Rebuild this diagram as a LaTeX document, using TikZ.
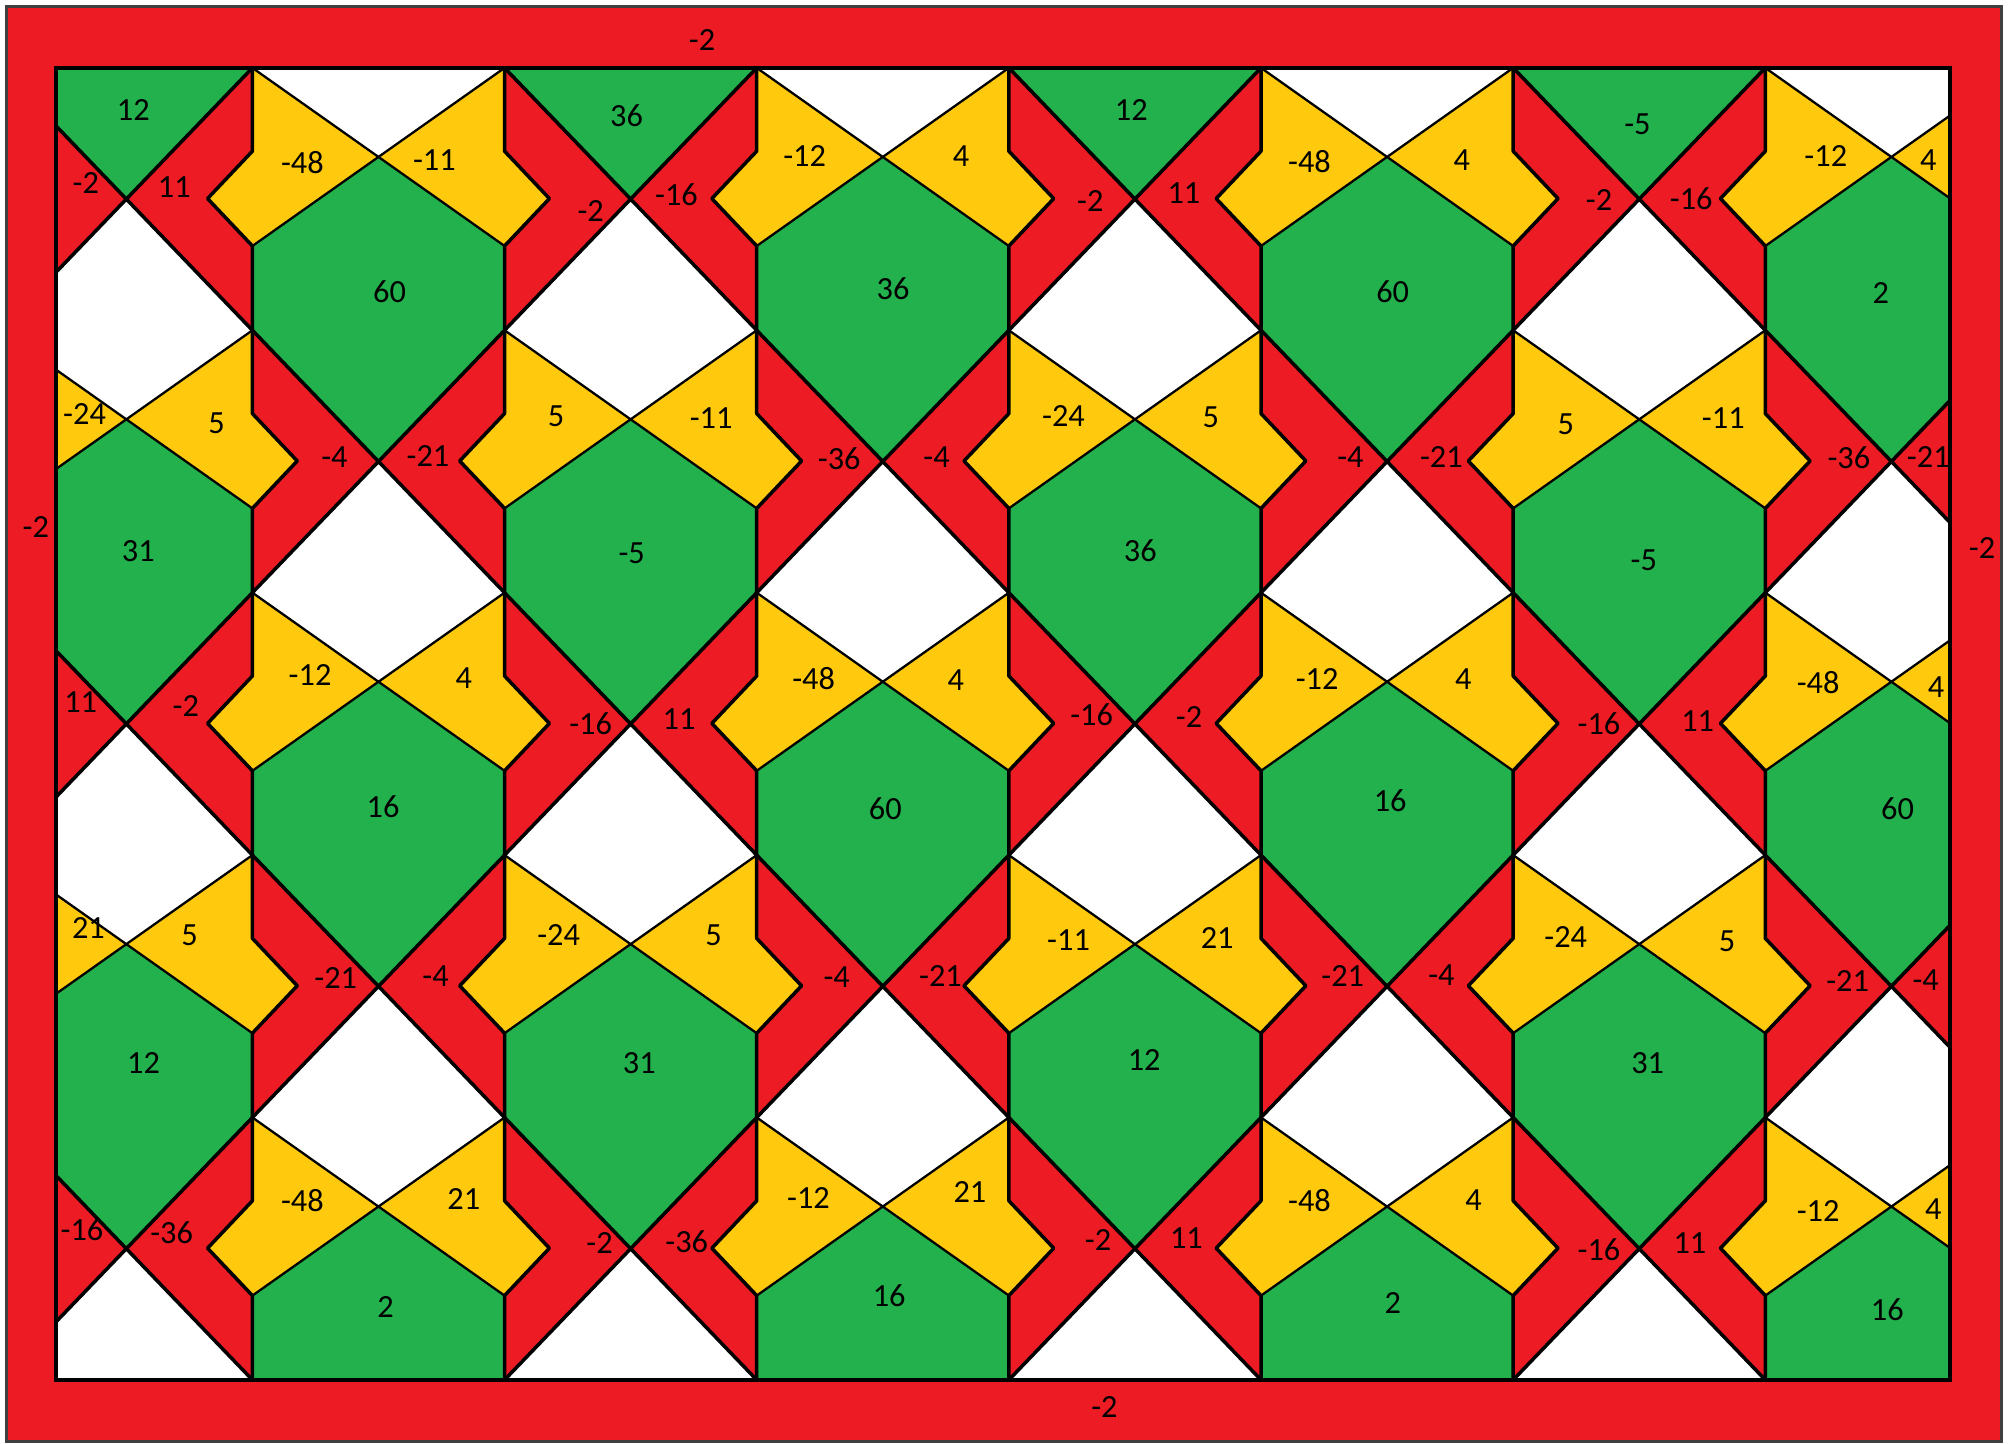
\documentclass[tikz,border=0pt]{standalone}
\usepackage{fontspec}
\setmainfont{Carlito}
\definecolor{tilered}{HTML}{ED1C24}
\definecolor{tilegreen}{HTML}{22B14C}
\definecolor{tileyellow}{HTML}{FFC90E}

% corners of cell (i,j): x from \xl to \xr, y from \yt to \yb
\newcommand{\setcell}[2]{%
  \pgfmathsetmacro\xl{0.2+196.8*#1}%
  \pgfmathsetmacro\xr{\xl+196.8}%
  \pgfmathsetmacro\xm{\xl+98.4}%
  \pgfmathsetmacro\yt{53+204.8*#2}%
  \pgfmathsetmacro\yb{\yt+204.8}%
  \pgfmathsetmacro\ym{\yt+102.4}%
  \pgfmathtruncatemacro\kind{mod(#1+#2,2)}}

\tikzset{
  lbl/.style={inner sep=0pt, font=\fontsize{9.2}{11}\selectfont},
  cross line/.style={line width=1pt, line join=round},
  bow line/.style={line width=0.65pt},
}

\begin{document}
\begin{tikzpicture}[x=0.012813cm, y=-0.012813cm]
  \useasboundingbox (0,0) rectangle (1568,1127);

  % Red frame and white field
  \draw[fill=tilered, draw=black!75, line width=0.9pt] (5,5) rectangle (1562,1125);
  \fill[white] (44,53) rectangle (1522,1077);

  \begin{scope}
    \clip (44,53) rectangle (1522,1077);
    % Green tops and red strips of the crossing cells, green hexagons below the bows
    \foreach \i in {0,...,7} {
      \foreach \j in {0,...,4} {
        \setcell{\i}{\j}
        \ifnum\kind=0
          \fill[tilegreen] (\xl,\yt) -- (\xr,\yt) -- (\xm,\ym) -- cycle;
          \fill[tilered] (\xl,\yt) -- (\xm,\ym) -- (\xl,\yb) -- cycle;
          \fill[tilered] (\xr,\yt) -- (\xm,\ym) -- (\xr,\yb) -- cycle;
        \else
          \fill[tilegreen] (\xl,\yt+139) -- (\xm,\yt+70) -- (\xr,\yt+139) -- (\xr,\yb)
            -- (\xm,\yb+102.4) -- (\xl,\yb) -- cycle;
        \fi
      }
    }
    % Yellow bow pieces with their notches
    \foreach \i in {0,...,7} {
      \foreach \j in {0,...,4} {
        \setcell{\i}{\j}
        \ifnum\kind=1
          \fill[tileyellow] (\xl,\yt) -- (\xm,\yt+70) -- (\xl,\yt+139) -- (\xl-35,\yt+102) -- (\xl,\yt+65) -- cycle;
          \fill[tileyellow] (\xr,\yt) -- (\xm,\yt+70) -- (\xr,\yt+139) -- (\xr+35,\yt+102) -- (\xr,\yt+65) -- cycle;
        \fi
      }
    }
    % Black outlines
    \foreach \i in {0,...,7} {
      \foreach \j in {0,...,4} {
        \setcell{\i}{\j}
        \ifnum\kind=0
          \draw[cross line] (\xl,\yt) -- (\xr,\yb) (\xr,\yt) -- (\xl,\yb);
        \else
          \draw[bow line] (\xl,\yt) -- (\xr,\yt+139) (\xr,\yt) -- (\xl,\yt+139);
          \draw[cross line] (\xl,\yt) -- (\xl,\yt+65) -- (\xl-35,\yt+102) -- (\xl,\yt+139) -- (\xl,\yb);
          \draw[cross line] (\xr,\yt) -- (\xr,\yt+65) -- (\xr+35,\yt+102) -- (\xr,\yt+139) -- (\xr,\yb);
        \fi
      }
    }
  \end{scope}
  \draw[line width=1.2pt] (44,53) rectangle (1522,1077);

  % Values on the frame
  \node[lbl] (frametop) at (548,31) {-2};
  \node[lbl] (frameleft) at (28,411) {-2};
  \node[lbl] (frameright) at (1547,428) {-2};
  \node[lbl] (framebottom) at (862,1098) {-2};

  % Values in the green pieces
  \foreach \x/\y/\t [count=\k] in {104/86/12, 489/90/36, 883/86/12, 1278/97/-5,
      304/228/60, 697/225/36, 1087/228/60, 1468/229/2,
      108/430/31, 493/432/-5, 890/430/36, 1283/437/-5,
      299/630/16, 691/631/60, 1085/625/16, 1481/631/60,
      112/830/12, 499/830/31, 893/827/12, 1286/830/31,
      301/1020/2, 694/1011/16, 1087/1017/2, 1473/1022/16}
    \node[lbl] (green\k) at (\x,\y) {\t};

  % Values in the yellow pieces
  \foreach \x/\y/\t [count=\k] in {236/127/-48, 339/125/-11, 628/122/-12, 750/122/4,
      1022/126/-48, 1141/125/4, 1425/122/-12, 1505/125/4,
      66/323/-24, 169/330/5, 434/325/5, 555/326/-11, 830/325/-24, 945/326/5, 1222/331/5, 1345/326/-11,
      242/527/-12, 362/529/4, 635/530/-48, 746/531/4, 1028/530/-12, 1142/530/4, 1419/533/-48, 1511/536/4,
      69/724/21, 148/730/5, 436/730/-24, 557/730/5, 834/734/-11, 950/732/21, 1222/731/-24, 1348/735/5,
      236/937/-48, 362/936/21, 631/935/-12, 757/930/21, 1022/937/-48, 1150/937/4, 1419/945/-12, 1509/944/4}
    \node[lbl] (yellow\k) at (\x,\y) {\t};

  % Values in the red pieces
  \foreach \x/\y/\t [count=\k] in {67/143/-2, 136/146/11, 461/165/-2, 528/152/-16,
      851/157/-2, 924/151/11, 1248/156/-2, 1320/155/-16,
      261/357/-4, 334/356/-21, 655/358/-36, 731/357/-4, 1054/357/-4, 1125/357/-21, 1443/357/-36, 1505/357/-21,
      63/548/11, 145/551/-2, 461/565/-16, 530/561/11, 852/558/-16, 928/560/-2, 1248/565/-16, 1325/563/11,
      262/763/-21, 340/762/-4, 653/763/-4, 734/762/-21, 1048/762/-21, 1125/761/-4, 1442/766/-21, 1503/765/-4,
      64/960/-16, 134/962/-36, 468/970/-2, 536/969/-36, 857/968/-2, 926/966/11, 1248/975/-16, 1319/970/11}
    \node[lbl] (red\k) at (\x,\y) {\t};
\end{tikzpicture}
\end{document}
